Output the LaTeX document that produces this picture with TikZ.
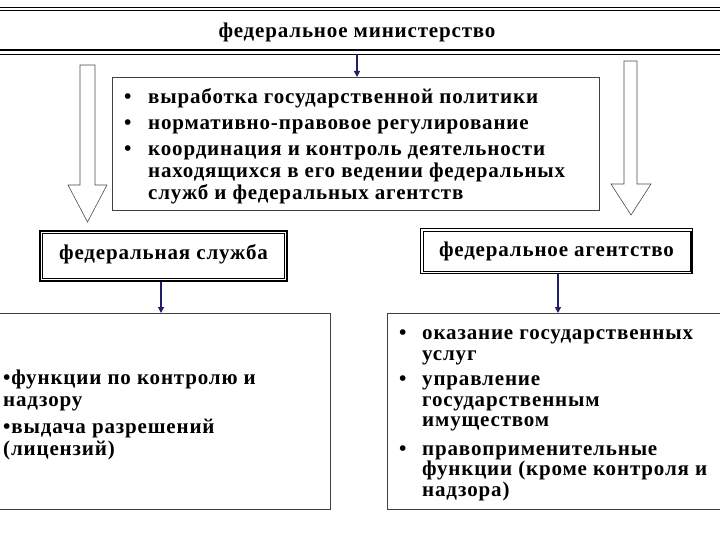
\documentclass[tikz,border=0pt]{standalone}
\usepackage{fontspec}
\setmainfont{Liberation Serif}[LetterSpace=4]
\usetikzlibrary{arrows.meta}
\definecolor{navy}{HTML}{1F1F6B}
\tikzset{
  x=1pt, y=-1pt,
  txt/.style={font=\bfseries\fontsize{21}{22}\selectfont, inner sep=0pt, align=left},
  plainbox/.style={draw=black!75, line width=0.9pt, fill=white, inner sep=0pt, anchor=north west},
  hollow/.style={draw=black!70, line width=0.6pt, fill=white},
  smallarrow/.style={draw=navy, line width=1.2pt, -{Triangle[length=6pt,width=6pt]}},
  titlebox/.style={draw=black, line width=2pt, fill=white, inner sep=0pt, anchor=north west},
}
\begin{document}
\begin{tikzpicture}
\useasboundingbox (0,0) rectangle (720,540);
\fill[white] (0,0) rectangle (720,540);

% top band
\draw[line width=0.7pt] (0,7) -- (720,7);
\draw[line width=1.4pt] (0,10.5) -- (720,10.5);
\draw[line width=1.8pt] (0,50) -- (720,50);
\draw[line width=0.7pt] (0,54) -- (720,54);
\node[txt] (min) at (357,32) {федеральное министерство};

% hollow arrows
\draw[hollow] (80,65) -- (95,65) -- (95,185) -- (107,185) -- (87.5,222) -- (68,185) -- (80,185) -- cycle;
\draw[hollow] (624,61) -- (637,61) -- (637,184) -- (651,184) -- (631,215) -- (611,184) -- (624,184) -- cycle;

% policy box
\node[plainbox, minimum width=487, minimum height=133] (pol) at (112,77) {};
\node[txt, anchor=north west] (poltext) at (124,88) {%
\begin{tabular}{@{}p{24pt}@{}l@{}}
\textbullet & выработка государственной политики\\[4pt]
\textbullet & нормативно-правовое регулирование\\[4pt]
\textbullet & координация и контроль деятельности\\
 & находящихся в его ведении федеральных\\
 & служб и федеральных агентств
\end{tabular}};
\coordinate (minbot) at (357,54);
\draw[smallarrow] (minbot) -- (minbot |- pol.north);

% service / agency title boxes
\node[titlebox, minimum width=247, minimum height=50] (srv) at (39,230) {};
\draw[line width=0.7pt] ([shift={(3.5,3.5)}]srv.north west) rectangle ([shift={(-3.5,-3.5)}]srv.south east);
\node[txt] (srvtext) at ([yshift=2pt]srv.center) {федеральная служба};

\node[titlebox, line width=1pt, minimum width=272, minimum height=45] (agc) at (420,228) {};
\draw[line width=0.7pt] ([shift={(3,3)}]agc.north west) rectangle ([shift={(-3,-3)}]agc.south east);
\draw[line width=2pt] ([shift={(-1,3)}]agc.north east) -- ([shift={(-1,0)}]agc.south east);
\node[txt] (agctext) at (agc.center) {федеральное агентство};

% lower boxes
\node[plainbox, minimum width=331, minimum height=196] (srvf) at (-1,313) {};
\node[plainbox, minimum width=334, minimum height=196] (agcf) at (387,313) {};

\coordinate (srvx) at (161,0);
\coordinate (agcx) at (558,0);
\draw[smallarrow] (srv.south -| srvx) -- (srvf.north -| srvx);
\draw[smallarrow] (agc.south -| agcx) -- (agcf.north -| agcx);

\node[txt, anchor=north west] (srvftext) at (3,369) {%
\begin{tabular}{@{}l@{}}
\textbullet функции по контролю и\\
надзору\\[5pt]
\textbullet выдача разрешений\\
(лицензий)
\end{tabular}};

\node[txt, anchor=north west, font=\bfseries\fontsize{21}{20.5}\selectfont] (agcftext) at (399,325) {%
\begin{tabular}{@{}p{23pt}@{}l@{}}
\textbullet & оказание государственных\\
 & услуг\\[5pt]
\textbullet & управление\\
 & государственным\\
 & имуществом\\[8pt]
\textbullet & правоприменительные\\
 & функции (кроме контроля и\\
 & надзора)
\end{tabular}};
\end{tikzpicture}
\end{document}
